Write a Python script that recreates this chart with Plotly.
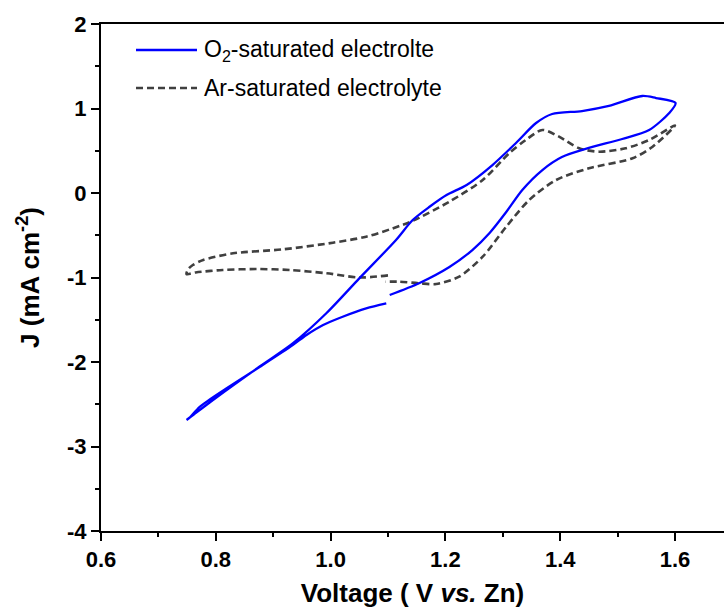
import plotly.graph_objects as go

# O2-saturated electrolyte CV (voltage vs Zn, current density mA cm-2)
o2_voltage = [1.097, 1.062, 1.021, 0.987, 0.958, 0.934, 0.877, 0.819, 0.772, 0.755, 0.749,
              0.758, 0.801, 0.877, 0.934, 0.993, 1.050, 1.114, 1.143, 1.173, 1.202, 1.237,
              1.282, 1.323, 1.358, 1.386, 1.438, 1.485, 1.543, 1.567, 1.601,
              1.590, 1.555, 1.508, 1.450, 1.403, 1.369, 1.334, 1.306, 1.277, 1.247, 1.207,
              1.155, 1.103]
o2_current = [-1.306, -1.365, -1.464, -1.562, -1.68, -1.80, -2.056, -2.31, -2.53, -2.655, -2.686,
              -2.64, -2.42, -2.05, -1.78, -1.42, -1.01, -0.556, -0.32, -0.16, -0.024, 0.095,
              0.331, 0.592, 0.828, 0.935, 0.970, 1.030, 1.148, 1.124, 1.065,
              0.947, 0.746, 0.639, 0.533, 0.426, 0.272, 0.036, -0.225, -0.473, -0.675, -0.876,
              -1.065, -1.207]

# Ar-saturated electrolyte CV
ar_voltage = [1.100, 1.050, 0.993, 0.929, 0.871, 0.812, 0.765, 0.749, 0.752, 0.760, 0.778,
              0.830, 0.917, 1.004, 1.062, 1.120, 1.143, 1.207, 1.265, 1.311, 1.340, 1.369,
              1.398, 1.433, 1.468, 1.514, 1.555, 1.600,
              1.561, 1.526, 1.450, 1.393, 1.346, 1.306, 1.265, 1.224, 1.184, 1.155, 1.120, 1.095]
ar_current = [-0.975, -1.00, -0.95, -0.911, -0.90, -0.911, -0.94, -0.959, -0.90, -0.852, -0.793,
              -0.714, -0.667, -0.588, -0.517, -0.391, -0.33, -0.103, 0.154, 0.470, 0.627, 0.746,
              0.667, 0.529, 0.489, 0.529, 0.627, 0.80,
              0.548, 0.411, 0.292, 0.154, -0.083, -0.399, -0.754, -0.990, -1.077, -1.069, -1.05, -1.05]

legend_labels = ["O<sub>2</sub>-saturated electrolte", "Ar-saturated electrolyte"]
x_ticks = [0.6, 0.8, 1.0, 1.2, 1.4, 1.6]
x_tick_labels = ["0.6", "0.8", "1.0", "1.2", "1.4", "1.6"]
y_ticks = [-4, -3, -2, -1, 0, 1, 2]
y_tick_labels = ["-4", "-3", "-2", "-1", "0", "1", "2"]

BLUE = "#0000FF"
GRAY = "#404040"
FONT = "Liberation Sans, Arial, sans-serif"

fig = go.Figure()
fig.add_trace(go.Scatter(x=ar_voltage, y=ar_current, mode="lines",
                         line=dict(color=GRAY, width=2.6, dash="7px,4px", shape="spline", smoothing=0.8),
                         showlegend=False, hoverinfo="skip"))
fig.add_trace(go.Scatter(x=o2_voltage, y=o2_current, mode="lines",
                         line=dict(color=BLUE, width=2.3, shape="spline", smoothing=0.8),
                         showlegend=False, hoverinfo="skip"))

# custom legend (line samples + text)
W, H = 724, 612
L, R, T, B = 101, 0, 24, 81
pw, ph = W - L - R, H - T - B

def px2paper(px, py):
    return (px - L) / pw, (H - B - py) / ph

legend_rows = [(50, BLUE, "solid", 2.3), (88, GRAY, "7px,4px", 2.6)]
for (py, col, dash, wdt), label in zip(legend_rows, legend_labels):
    x0, y0 = px2paper(136, py)
    x1, _ = px2paper(197, py)
    fig.add_shape(type="line", xref="paper", yref="paper", x0=x0, x1=x1, y0=y0, y1=y0,
                  line=dict(color=col, width=wdt, dash=dash))
    tx, ty = px2paper(202, py)
    fig.add_annotation(xref="paper", yref="paper", x=tx, y=ty, text=label, showarrow=False,
                       xanchor="left", yanchor="middle", font=dict(family=FONT, size=23, color="black"))

axis_common = dict(showline=True, linecolor="black", linewidth=2, ticks="outside",
                   ticklen=8, tickwidth=2, tickcolor="black", showgrid=False, zeroline=False,
                   tickfont=dict(family=FONT, size=22, color="black", weight="bold"))

fig.update_xaxes(range=[0.6, 1.6854], tickvals=x_ticks, ticktext=x_tick_labels, mirror=True,
                 minor=dict(dtick=0.1, ticks="outside", ticklen=4, tickwidth=2, tickcolor="black"),
                 title=dict(text="<b>Voltage ( V <i>vs.</i> Zn)</b>",
                            font=dict(family=FONT, size=26, color="black"), standoff=12),
                 **axis_common)
fig.update_yaxes(range=[-4, 2], tickvals=y_ticks, ticktext=y_tick_labels,
                 minor=dict(dtick=0.5, ticks="outside", ticklen=4, tickwidth=2, tickcolor="black"),
                 title=dict(text="<b>J (mA cm<sup>-2</sup>)</b>",
                            font=dict(family=FONT, size=26, color="black"), standoff=20),
                 **axis_common)

fig.update_layout(width=W, height=H, margin=dict(l=L, r=R, t=T, b=B, pad=0),
                  plot_bgcolor="white", paper_bgcolor="white", showlegend=False)

fig.write_html("out.html")
